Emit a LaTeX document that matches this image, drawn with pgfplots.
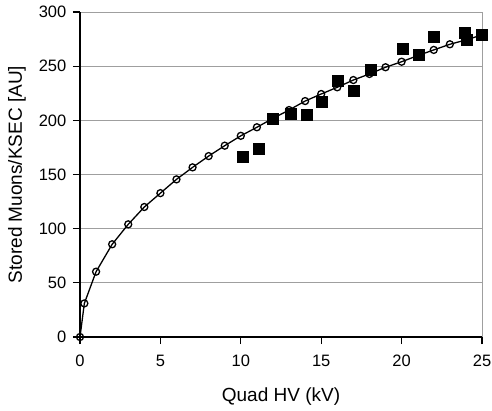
\documentclass[border=0pt]{standalone}
\usepackage{pgfplots}
\pgfplotsset{compat=1.18}
\usepackage{fontspec}
\setmainfont{Liberation Sans}
\begin{document}
\fontsize{16.5}{19}\selectfont
\begin{tikzpicture}
\path[use as bounding box] (-80pt,-73pt) rectangle (412pt,337pt);
\begin{axis}[
  at={(0pt,0pt)}, anchor=south west,
  scale only axis,
  width=402pt, height=325pt,
  xmin=0, xmax=25, ymin=0, ymax=300,
  xtick={0,5,10,15,20,25},
  ytick={0,50,100,150,200,250,300},
  axis x line*=bottom, axis y line*=left,
  axis line style={black, line width=1.8pt},
  tick align=outside,
  major tick length=7pt,
  tick style={black, line width=1.2pt},
  ymajorgrids,
  major grid style={gray!75, line width=1pt},
  extra x ticks={25},
  extra x tick labels={},
  extra x tick style={grid=major, major grid style={gray!75, line width=1pt}},
  /pgf/number format/assume math mode=true,
  ticklabel style={font=\fontsize{16.5}{19}\selectfont},
  yticklabel style={xshift=-1pt},
  xticklabel style={yshift=-5pt},
  every axis y label/.style={at={(axis description cs:0,0.5)}, xshift=-63pt, rotate=90, anchor=center, font=\fontsize{19}{22}\selectfont},
  every axis x label/.style={at={(axis description cs:0.5,0)}, yshift=-60pt, anchor=center, font=\fontsize{19}{22}\selectfont},
  xlabel={Quad HV (kV)},
  ylabel={Stored Muons/KSEC [AU]},
  clip=false,
]
\addplot[only marks, mark=square*, mark size=5.5pt, mark options={fill=black, draw=black}] coordinates {
(10.1,166) (11.1,173.5) (12,201.8) (13.1,206.5) (14.1,205) (15.03,217.2)
(16.02,236.3) (17.02,227) (18.1,246.5) (20.05,266.5) (21.04,260.9)
(22.0,277.2) (23.9,281.3) (24.05,274.2) (25,278.8)
};
\addplot[black, line width=1.3pt, mark=o, mark size=3.5pt, mark options={fill=white, draw=black, line width=1.3pt}] coordinates {
(0,0) (0.27,31) (1,60.3) (2,85.6) (3,104) (4,120) (5,132.8) (6,145.5)
(7,156.6) (8,167) (9,176.6) (10,185.7) (11,193.6) (12,201.8) (13,209.5)
(14,217.8) (15,224.3) (16,230.5) (17,237.2) (18,242.8) (19,249)
(20,254.1) (21,259.7) (22,265) (23,270.2) (24,274.2) (25,278.8)
};
\end{axis}
\end{tikzpicture}
\end{document}
